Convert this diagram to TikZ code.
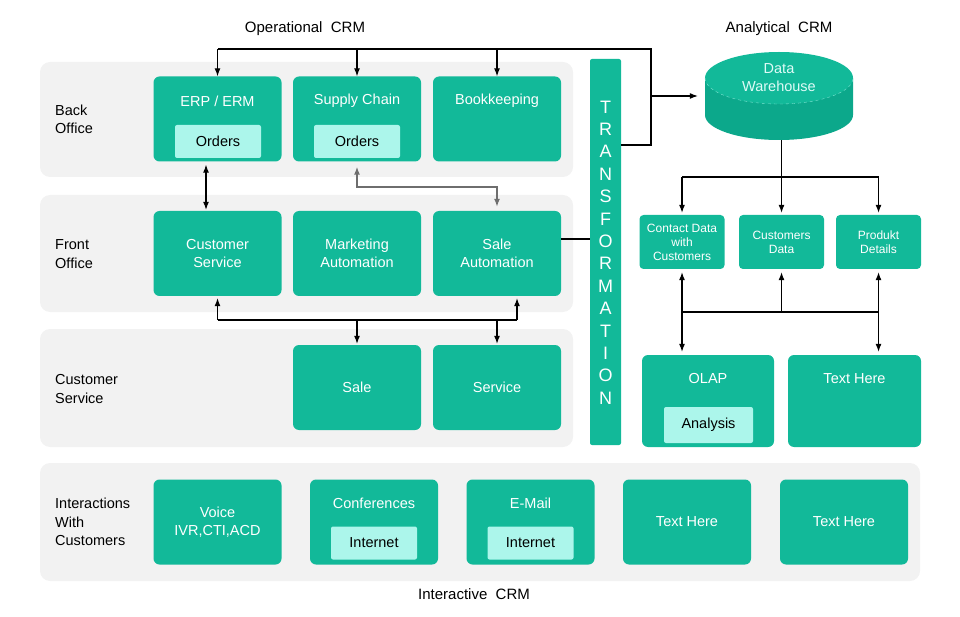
\documentclass[tikz,border=0pt]{standalone}
\usepackage{fontspec}
\setmainfont{Liberation Sans}
\usetikzlibrary{arrows.meta}
\definecolor{crmteal}{RGB}{18,185,153}
\definecolor{crmdark}{RGB}{12,168,139}
\definecolor{crmlight}{RGB}{172,246,235}
\definecolor{crmgray}{RGB}{242,242,242}
\definecolor{crmline}{RGB}{110,110,110}
\begin{document}
\begin{tikzpicture}[x=1pt,y=-1pt,
    panel/.style={fill=crmgray, rounded corners=10pt},
    box/.style={fill=crmteal, rounded corners=6pt, text=white, inner sep=0pt,
        minimum width=128pt, minimum height=85pt, align=center,
        font=\fontsize{14.5}{18}\selectfont},
    smallbox/.style={box, minimum width=85pt, minimum height=54pt,
        rounded corners=4pt, font=\fontsize{12}{14}\selectfont},
    inbox/.style={fill=crmlight, rounded corners=2pt, minimum width=86pt,
        minimum height=33pt, inner sep=0pt, font=\fontsize{14.5}{18}\selectfont},
    ttl/.style={text=white, font=\fontsize{14.5}{18}\selectfont},
    lbl/.style={anchor=west, align=left, inner sep=0pt, font=\fontsize{14.5}{18.5}\selectfont},
    head/.style={font=\fontsize{15}{18}\selectfont},
    link/.style={line width=1.1pt},
    arr/.style={link, -{Latex[length=8pt,width=6pt]}},
    arrs/.style={link, {Latex[length=8pt,width=6pt]}-{Latex[length=8pt,width=6pt]}}]
\useasboundingbox (0,0) rectangle (960,617);

% Headings
\node[head] (opH) at (305,29) {Operational\ \ CRM};
\node[head] (anH) at (779,29) {Analytical\ \ CRM};
\node[head] (inH) at (474,594) {Interactive\ \ CRM};

% Panels
\fill[panel] (40,62) rectangle (573,177);
\fill[panel] (40,195) rectangle (573,312);
\fill[panel] (40,329) rectangle (573,447);
\fill[panel] (40,463) rectangle (920,581);

\node[lbl] (boL) at (55,119.5) {Back\\Office};
\node[lbl] (foL) at (55,254) {Front\\Office};
\node[lbl] (csL) at (55,389) {Customer\\Service};
\node[lbl] (icL) at (55,522) {Interactions\\With\\Customers};

% Back Office
\node[box] (erp) at (217.5,119) {};
\node[ttl] (erpT) at (217.5,101) {ERP / ERM};
\node[inbox] (erpO) at (218,141.5) {Orders};
\node[box] (sc) at (357,119) {};
\node[ttl] (scT) at (357,101) {Supply Chain};
\node[inbox] (scO) at (357,141.5) {Orders};
\node[box] (bk) at (497,119) {};
\node[ttl] (bkT) at (497,101) {Bookkeeping};

% Front Office
\node[box] (custS) at (217.5,253.5) {Customer\\Service};
\node[box] (mkt) at (357,253.5) {Marketing\\Automation};
\node[box] (sa) at (497,253.5) {Sale\\Automation};

% Customer Service
\node[box] (sale) at (357,387.5) {Sale};
\node[box] (serv) at (497,387.5) {Service};

% Interactions
\node[box] (voice) at (217.5,522) {Voice\\IVR,CTI,ACD};
\node[box] (conf) at (374,522) {};
\node[ttl] (confT) at (374,503) {Conferences};
\node[inbox] (confI) at (374,543) {Internet};
\node[box] (mail) at (530.5,522) {};
\node[ttl] (mailT) at (530.5,503) {E-Mail};
\node[inbox] (mailI) at (530.5,543) {Internet};
\node[box] (th1) at (687,522) {Text Here};
\node[box] (th2) at (844,522) {Text Here};

% Transformation bar
\node[fill=crmteal, rounded corners=2pt, minimum width=31pt, minimum height=386pt,
    inner sep=0pt] (trans) at (605.5,252) {};
\foreach \l [count=\i] in {T,R,A,N,S,F,O,R,M,A,T,I,O,N}
    \node[text=white, font=\fontsize{18}{18}\selectfont] at (605.5,{107+(\i-1)*22.4}) {\l};

% Data warehouse
\node[minimum width=148pt, minimum height=88pt, inner sep=0pt] (dw) at (779,96) {};
\fill[crmdark] (705,78) -- (705,115) arc[start angle=180, end angle=0, x radius=74, y radius=25] -- (853,78) -- cycle;
\fill[crmteal] (779,78) ellipse[x radius=74, y radius=26];
\draw[crmlight!70!crmteal, dashed, thin] (705,78) arc[start angle=180, end angle=0, x radius=74, y radius=26];
\node[text=crmlight!40!white, align=center, font=\fontsize{14.5}{18}\selectfont] (dwT) at (779,78) {Data\\Warehouse};

% Analytical boxes
\node[smallbox] (cd) at (682,242) {Contact Data\\with\\Customers};
\node[smallbox] (cu) at (781.5,242) {Customers\\Data};
\node[smallbox] (pd) at (878.5,242) {Produkt\\Details};
\node[box, minimum width=132pt, minimum height=92pt] (olap) at (708,401) {};
\node[ttl] (olapT) at (708,379) {OLAP};
\node[inbox, minimum width=89pt, minimum height=36pt] (ana) at (708.5,425) {Analysis};
\node[box, minimum width=133pt, minimum height=92pt] (th3) at (854.5,401) {};
\node[ttl] (th3T) at (854.5,379) {Text Here};

% Operational connectors
\coordinate (top) at (651,49);
\draw[link] (trans.east |- 0,145) -- (top |- 0,145) -- (top) -- (erp.north |- top);
\draw[arr] (erp.north |- top) -- (erp.north);
\draw[arr] (sc.north |- top) -- (sc.north);
\draw[arr] (bk.north |- top) -- (bk.north);
\draw[arr] (top |- 0,96) -- ([xshift=-7pt]dw.west |- 0,96);
\draw[link] (sa.east |- 0,239) -- (trans.west |- 0,239);

\draw[arrs, shorten <=3pt, shorten >=1pt] ([xshift=-11.5pt]erp.south) -- ([xshift=-11.5pt]custS.north);
\draw[arrs, draw=crmline, line width=1.4pt, shorten <=5pt, shorten >=4pt] (sc.south) -- (sc.south |- 0,187) -| (sa.north);

\coordinate (j1) at (217.5,320);
\coordinate (j2) at (517,320);
\draw[link] (j1) -- (j2);
\draw[arr, shorten >=2pt] (j1) -- (custS.south);
\draw[arr, shorten >=2pt] (j2) -- (j2 |- sa.south);
\draw[arr, shorten >=1pt] (sale.north |- j1) -- (sale.north);
\draw[arr, shorten >=1pt] (serv.north |- j1) -- (serv.north);

% Analytical connectors
\coordinate (dwj) at (cu.north |- 0,177);
\draw[arr, shorten >=2pt] (cu.north |- dw.south) -- (cu.north);
\draw[link] (dwj -| cd.north) -- (dwj -| pd.north);
\draw[arr, shorten >=2pt] (dwj -| cd.north) -- (cd.north);
\draw[arr, shorten >=2pt] (dwj -| pd.north) -- (pd.north);

\coordinate (aj) at (cd.south |- 0,312);
\draw[link] (aj) -- (aj -| pd.south);
\draw[arr, shorten >=3pt] (aj -| cu.south) -- (cu.south);
\draw[arrs, shorten <=3pt, shorten >=3pt] (cd.south) -- (cd.south |- olap.north);
\draw[arrs, shorten <=3pt, shorten >=3pt] (pd.south) -- (pd.south |- th3.north);
\end{tikzpicture}
\end{document}
